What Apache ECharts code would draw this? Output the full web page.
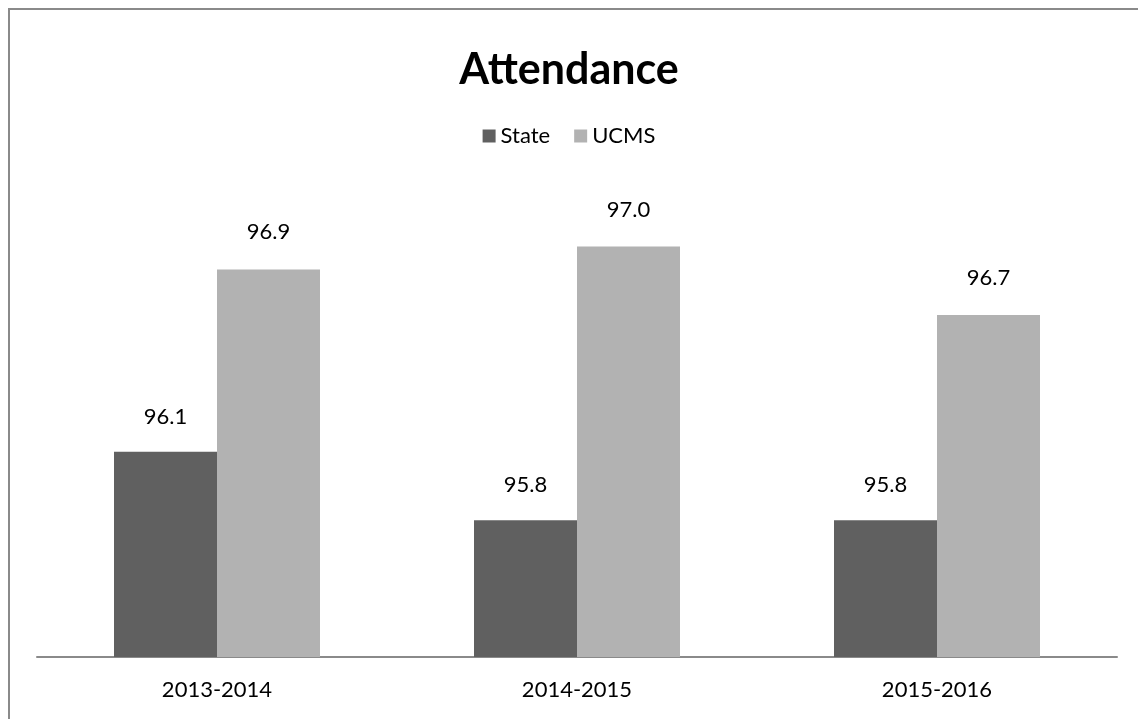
<!DOCTYPE html>
<html>
<head>
<meta charset="utf-8">
<script src="https://cdn.jsdelivr.net/npm/echarts@6/dist/echarts.min.js"></script>
<style>
html,body{margin:0;padding:0;background:#fff;}
#main{width:1138px;height:719px;}
</style>
</head>
<body>
<div id="main"></div>
<script>
const categories = ['2013-2014', '2014-2015', '2015-2016'];
const stateValues = [96.1, 95.8, 95.8];
const ucmsValues = [96.9, 97.0, 96.7];
const seriesNames = ['State', 'UCMS'];

const FONT = 'Lato, "Open Sans", sans-serif';
const chart = echarts.init(document.getElementById('main'));
chart.setOption({
  backgroundColor: '#fff',
  animation: false,
  title: {
    text: 'Attendance',
    left: 'center',
    top: 44,
    textStyle: { fontFamily: FONT, fontSize: 43, fontWeight: 'bold', color: '#000' }
  },
  legend: {
    data: seriesNames,
    top: 120,
    left: 'center',
    icon: 'rect',
    itemWidth: 13,
    itemHeight: 13,
    itemGap: 24,
    textStyle: { fontFamily: FONT, fontSize: 22, color: '#000' }
  },
  graphic: [{
    type: 'rect',
    shape: { x: 9, y: 9, width: 1140, height: 730 },
    style: { fill: 'none', stroke: '#8a8a8a', lineWidth: 2 },
    silent: true
  }],
  grid: { left: 37, right: 21, top: 201, bottom: 62 },
  xAxis: {
    type: 'category',
    data: categories,
    axisLine: { lineStyle: { color: '#8a8a8a', width: 2 } },
    axisTick: { show: false },
    axisLabel: { fontFamily: FONT, fontSize: 22, color: '#000', margin: 22 }
  },
  yAxis: {
    type: 'value',
    min: 95.2,
    max: 97.2,
    show: false,
    splitLine: { show: false }
  },
  series: [
    {
      name: seriesNames[0],
      type: 'bar',
      data: stateValues,
      barWidth: 103,
      barGap: '0%',
      itemStyle: { color: '#606060' },
      label: {
        show: true, position: 'top', distance: 24,
        fontFamily: FONT, fontSize: 22, color: '#000',
        formatter: p => p.value.toFixed(1)
      }
    },
    {
      name: seriesNames[1],
      type: 'bar',
      data: ucmsValues,
      barWidth: 103,
      itemStyle: { color: '#b2b2b2' },
      label: {
        show: true, position: 'top', distance: 26,
        fontFamily: FONT, fontSize: 22, color: '#000',
        formatter: p => p.value.toFixed(1)
      }
    }
  ]
});
</script>
</body>
</html>
